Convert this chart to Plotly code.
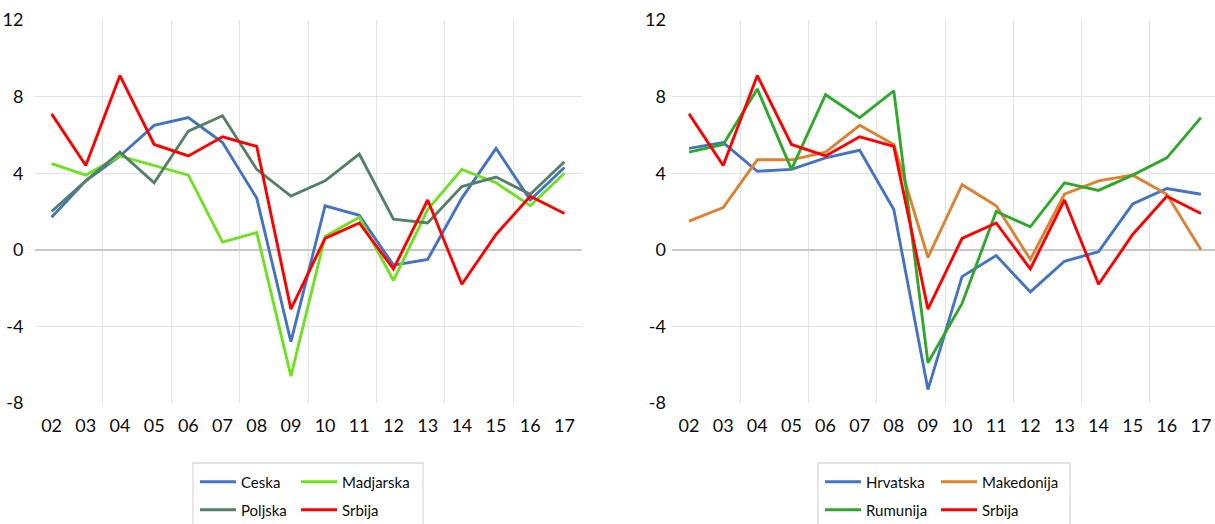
import plotly.graph_objects as go

# Years on the horizontal axis (2002-2017)
years = ["02", "03", "04", "05", "06", "07", "08", "09",
         "10", "11", "12", "13", "14", "15", "16", "17"]

# Y-axis ticks and their labels
y_ticks = [-8, -4, 0, 4, 8, 12]
y_tick_text = ["-8", "-4", "0", "4", "8", "12"]

# Real GDP growth, %  (left panel)
ceska = [1.7, 3.6, 4.9, 6.5, 6.9, 5.6, 2.7, -4.8, 2.3, 1.8, -0.8, -0.5, 2.7, 5.3, 2.6, 4.3]
madjarska = [4.5, 3.9, 4.9, 4.4, 3.9, 0.4, 0.9, -6.6, 0.7, 1.7, -1.6, 2.1, 4.2, 3.5, 2.3, 4.0]
poljska = [2.0, 3.6, 5.1, 3.5, 6.2, 7.0, 4.2, 2.8, 3.6, 5.0, 1.6, 1.4, 3.3, 3.8, 2.9, 4.6]
srbija = [7.1, 4.4, 9.1, 5.5, 4.9, 5.9, 5.4, -3.1, 0.6, 1.4, -1.0, 2.6, -1.8, 0.8, 2.8, 1.9]

# Real GDP growth, %  (right panel)
hrvatska = [5.3, 5.6, 4.1, 4.2, 4.8, 5.2, 2.1, -7.3, -1.4, -0.3, -2.2, -0.6, -0.1, 2.4, 3.2, 2.9]
makedonija = [1.5, 2.2, 4.7, 4.7, 5.1, 6.5, 5.5, -0.4, 3.4, 2.3, -0.5, 2.9, 3.6, 3.9, 2.9, 0.0]
rumunija = [5.1, 5.5, 8.4, 4.2, 8.1, 6.9, 8.3, -5.9, -2.8, 2.0, 1.2, 3.5, 3.1, 3.9, 4.8, 6.9]

W, H = 1215, 524
FONT = "Lato, 'Open Sans', sans-serif"
TEXT = "#0d0d0d"
GRID = "#E3E3E3"
idx = list(range(len(years)))


def px_x(p):
    return p / W


def px_y(p):
    return (H - p) / H


fig = go.Figure()

# (name, values, colour, legend cell position in pixels: left x, row centre y)
left_series = [
    ("Ceska", ceska, "#4472C4", (195, 482)),
    ("Madjarska", madjarska, "#6FE022", (296, 482)),
    ("Poljska", poljska, "#548066", (195, 510)),
    ("Srbija", srbija, "#FF0000", (296, 510)),
]
right_series = [
    ("Hrvatska", hrvatska, "#4472C4", (820, 482)),
    ("Makedonija", makedonija, "#DC8233", (936, 482)),
    ("Rumunija", rumunija, "#30A82C", (820, 510)),
    ("Srbija", srbija, "#FF0000", (936, 510)),
]

legend_common = dict(
    orientation="h", bgcolor="rgba(0,0,0,0)", borderwidth=0,
    font=dict(family=FONT, size=15, color=TEXT),
    yanchor="middle", xanchor="left", itemwidth=36,
)

legends = {}
n = 0
for panel, (xa, ya) in ((left_series, ("x", "y")), (right_series, ("x2", "y2"))):
    for name, vals, color, (lx, ly) in panel:
        n += 1
        key = "legend" if n == 1 else f"legend{n}"
        legends[key] = dict(x=px_x(lx), y=px_y(ly), **legend_common)
        fig.add_trace(go.Scatter(
            x=idx, y=vals, name=name, mode="lines",
            line=dict(color=color, width=2.9),
            xaxis=xa, yaxis=ya, legend=key, hoverinfo="skip"))

step = 1 / 34.15  # fraction of a category per pixel on the right panel

xcommon = dict(
    tickmode="array", tickvals=idx, ticktext=years,
    showgrid=False, zeroline=False, showline=False, ticks="",
    tickfont=dict(family=FONT, size=18, color=TEXT),
    ticklabelstandoff=10,
    minor=dict(tickmode="array", tickvals=[i + 1.5 for i in range(0, 15, 2)],
               showgrid=True, gridcolor=GRID, gridwidth=1, ticks=""),
)
ycommon = dict(
    range=[-8, 12], tickmode="array", tickvals=y_ticks, ticktext=y_tick_text,
    showgrid=True, gridcolor=GRID, gridwidth=1.3,
    zeroline=True, zerolinecolor="#C8C8C8", zerolinewidth=2,
    showline=False, ticks="",
    tickfont=dict(family=FONT, size=18, color=TEXT),
    domain=[px_y(403), px_y(20)],
)

fig.update_layout(
    width=W, height=H,
    margin=dict(l=0, r=0, t=0, b=0, autoexpand=False),
    paper_bgcolor="white", plot_bgcolor="white",
    showlegend=True,
    xaxis=dict(domain=[px_x(34.5), px_x(581.5)], range=[-0.5, 15.5],
               anchor="y", **xcommon),
    yaxis=dict(anchor="x", ticklabelstandoff=10, **ycommon),
    xaxis2=dict(domain=[px_x(672), 1.0], range=[-0.5, 15.5 - 3 * step],
                anchor="y2", **xcommon),
    yaxis2=dict(anchor="x2", ticklabelstandoff=5, **ycommon),
    shapes=[
        dict(type="rect", xref="paper", yref="paper",
             x0=px_x(193), x1=px_x(423), y0=px_y(540), y1=px_y(463),
             line=dict(color="#D9D9D9", width=1.3), fillcolor="rgba(0,0,0,0)"),
        dict(type="rect", xref="paper", yref="paper",
             x0=px_x(818), x1=px_x(1070), y0=px_y(540), y1=px_y(463),
             line=dict(color="#D9D9D9", width=1.3), fillcolor="rgba(0,0,0,0)"),
    ],
    **legends,
)

fig.write_html("out.html")
